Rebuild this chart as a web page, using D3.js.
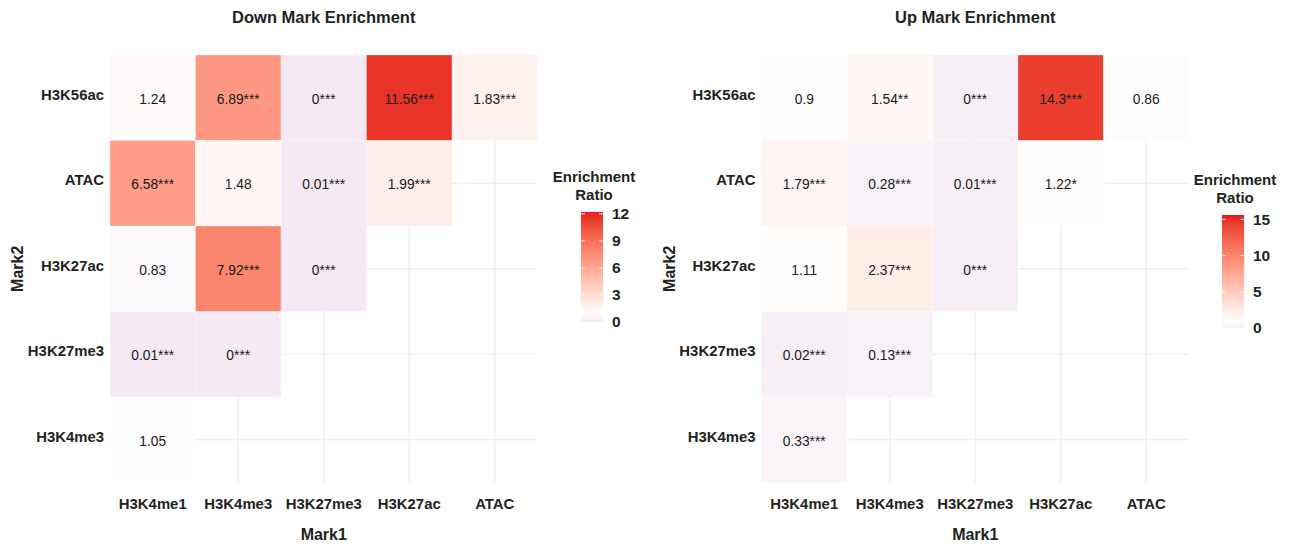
<!DOCTYPE html>
<html>
<head>
<meta charset="utf-8">
<script src="https://cdn.jsdelivr.net/npm/d3@7"></script>
<style>
body { margin: 0; background: #fff; }
svg { font-family: "Liberation Sans", Arial, sans-serif; }
</style>
</head>
<body>
<div id="chart"></div>
<script>
// marks on each axis
var mark1Levels = ["H3K4me1", "H3K4me3", "H3K27me3", "H3K27ac", "ATAC"];
var mark2Levels = ["H3K56ac", "ATAC", "H3K27ac", "H3K27me3", "H3K4me3"]; // top to bottom

// down panel
var downMark1 = ["H3K4me1", "H3K4me3", "H3K27me3", "H3K27ac", "ATAC",
                 "H3K4me1", "H3K4me3", "H3K27me3", "H3K27ac",
                 "H3K4me1", "H3K4me3", "H3K27me3",
                 "H3K4me1", "H3K4me3",
                 "H3K4me1"];
var downMark2 = ["H3K56ac", "H3K56ac", "H3K56ac", "H3K56ac", "H3K56ac",
                 "ATAC", "ATAC", "ATAC", "ATAC",
                 "H3K27ac", "H3K27ac", "H3K27ac",
                 "H3K27me3", "H3K27me3",
                 "H3K4me3"];
var downRatio = [1.24, 6.89, 0, 11.56, 1.83,
                 6.58, 1.48, 0.01, 1.99,
                 0.83, 7.92, 0,
                 0.01, 0,
                 1.05];
var downSig = ["", "***", "***", "***", "***",
               "***", "", "***", "***",
               "", "***", "***",
               "***", "***",
               ""];
var downLimits = [0, 12.2];
var downTicks = [0, 3, 6, 9, 12];

// up panel
var upMark1 = downMark1.slice();
var upMark2 = downMark2.slice();
var upRatio = [0.9, 1.54, 0, 14.3, 0.86,
               1.79, 0.28, 0.01, 1.22,
               1.11, 2.37, 0,
               0.02, 0.13,
               0.33];
var upSig = ["", "**", "***", "***", "",
             "***", "***", "***", "*",
             "", "***", "***",
             "***", "***",
             "***"];
var upLimits = [0, 15.6];
var upTicks = [0, 5, 10, 15];

var midpoint = 1;

var svg = d3.select("#chart").append("svg")
  .attr("width", 1295)
  .attr("height", 548);

function drawPanel(opt) {
  var size = 427.5;
  var x = d3.scaleBand().domain(mark1Levels).range([opt.left, opt.left + size]);
  var y = d3.scaleBand().domain(mark2Levels).range([55, 55 + size]);

  var half = opt.limits[1] - midpoint;
  var color = d3.scaleLinear()
    .domain([midpoint - half, midpoint, midpoint + half])
    .range(["purple", "white", "#e41a1c"])
    .interpolate(d3.interpolateLab);

  var g = svg.append("g");

  // grid
  g.selectAll(".vgrid").data(mark1Levels).join("line")
    .attr("x1", function(d) { return x(d) + x.bandwidth() / 2; })
    .attr("x2", function(d) { return x(d) + x.bandwidth() / 2; })
    .attr("y1", 55).attr("y2", 55 + size)
    .attr("stroke", "#ebebeb").attr("stroke-width", 1.1);
  g.selectAll(".hgrid").data(mark2Levels).join("line")
    .attr("y1", function(d) { return y(d) + y.bandwidth() / 2; })
    .attr("y2", function(d) { return y(d) + y.bandwidth() / 2; })
    .attr("x1", opt.left).attr("x2", opt.left + size)
    .attr("stroke", "#ebebeb").attr("stroke-width", 1.1);

  var rows = opt.mark1.map(function(m, i) {
    return {m1: m, m2: opt.mark2[i], v: opt.ratio[i], s: opt.sig[i]};
  });

  g.selectAll("rect.cell").data(rows).join("rect")
    .attr("class", "cell")
    .attr("x", function(d) { return x(d.m1); })
    .attr("y", function(d) { return y(d.m2); })
    .attr("width", x.bandwidth())
    .attr("height", y.bandwidth())
    .attr("fill", function(d) { return color(d.v); })
    .attr("stroke", "#ffffff")
    .attr("stroke-opacity", 0.4)
    .attr("stroke-width", 0.6);

  g.selectAll("text.lab").data(rows).join("text")
    .attr("x", function(d) { return x(d.m1) + x.bandwidth() / 2; })
    .attr("y", function(d) { return y(d.m2) + y.bandwidth() / 2 + 1; })
    .attr("dy", "0.35em")
    .attr("text-anchor", "middle")
    .attr("font-size", 13.8)
    .attr("fill", "#1a1a1a")
    .text(function(d) { return d.v + d.s; });

  // axes
  var xa = g.append("g")
    .attr("transform", "translate(0," + (55 + size) + ")")
    .call(d3.axisBottom(x).tickSize(0).tickPadding(16));
  var ya = g.append("g")
    .attr("transform", "translate(" + opt.left + ",-3)")
    .call(d3.axisLeft(y).tickSize(0).tickPadding(6));
  [xa, ya].forEach(function(a) {
    a.select(".domain").remove();
    a.selectAll("text")
      .attr("font-family", "Liberation Sans, Arial, sans-serif")
      .attr("font-size", 14.9)
      .attr("font-weight", "bold")
      .attr("fill", "#222");
  });

  g.append("text")
    .attr("x", opt.left + size / 2).attr("y", 540)
    .attr("text-anchor", "middle")
    .attr("font-size", 16).attr("font-weight", "bold").attr("fill", "#222")
    .text("Mark1");
  g.append("text")
    .attr("transform", "translate(" + (opt.left - 87) + "," + (55 + size / 2) + ") rotate(-90)")
    .attr("text-anchor", "middle")
    .attr("font-size", 16).attr("font-weight", "bold").attr("fill", "#222")
    .text("Mark2");
  g.append("text")
    .attr("x", opt.left + size / 2).attr("y", 23)
    .attr("text-anchor", "middle")
    .attr("font-size", 16.5).attr("font-weight", "bold").attr("fill", "#222")
    .text(opt.title);

  // colour bar legend
  var lg = svg.append("g");
  var ls = d3.scaleLinear().domain(opt.limits).range([opt.barBottom, opt.barTop]);
  var gradId = "grad" + opt.left;
  var grad = svg.append("defs").append("linearGradient")
    .attr("id", gradId)
    .attr("x1", 0).attr("y1", 1).attr("x2", 0).attr("y2", 0);
  d3.range(0, 1.0001, 0.05).forEach(function(t) {
    var v = opt.limits[0] + t * (opt.limits[1] - opt.limits[0]);
    grad.append("stop").attr("offset", t).attr("stop-color", color(v));
  });
  lg.append("rect")
    .attr("x", opt.barX).attr("y", opt.barTop)
    .attr("width", 22).attr("height", opt.barBottom - opt.barTop)
    .attr("fill", "url(#" + gradId + ")");
  lg.selectAll("line.tk").data(opt.ticks).join("line")
    .attr("x1", opt.barX).attr("x2", opt.barX + 4)
    .attr("y1", function(d) { return ls(d); }).attr("y2", function(d) { return ls(d); })
    .attr("stroke", "white").attr("stroke-width", 0.8);
  lg.selectAll("line.tk2").data(opt.ticks).join("line")
    .attr("x1", opt.barX + 18).attr("x2", opt.barX + 22)
    .attr("y1", function(d) { return ls(d); }).attr("y2", function(d) { return ls(d); })
    .attr("stroke", "white").attr("stroke-width", 0.8);
  lg.selectAll("text.tl").data(opt.ticks).join("text")
    .attr("x", opt.barX + 31)
    .attr("y", function(d) { return ls(d); })
    .attr("dy", "0.35em")
    .attr("font-size", 15.5).attr("font-weight", "bold").attr("fill", "#222")
    .text(function(d) { return d; });
  lg.append("text")
    .attr("x", opt.barX + 13).attr("y", opt.barTop - 30)
    .attr("text-anchor", "middle")
    .attr("font-size", 15).attr("font-weight", "bold").attr("fill", "#222")
    .selectAll("tspan").data(["Enrichment", "Ratio"]).join("tspan")
    .attr("x", opt.barX + 13)
    .attr("dy", function(d, i) { return i ? 17.5 : 0; })
    .text(function(d) { return d; });
}

drawPanel({
  left: 110, title: "Down Mark Enrichment",
  mark1: downMark1, mark2: downMark2, ratio: downRatio, sig: downSig,
  limits: downLimits, ticks: downTicks,
  barX: 581, barTop: 212, barBottom: 322
});
drawPanel({
  left: 761.5, title: "Up Mark Enrichment",
  mark1: upMark1, mark2: upMark2, ratio: upRatio, sig: upSig,
  limits: upLimits, ticks: upTicks,
  barX: 1222, barTop: 215, barBottom: 328
});
</script>
</body>
</html>
